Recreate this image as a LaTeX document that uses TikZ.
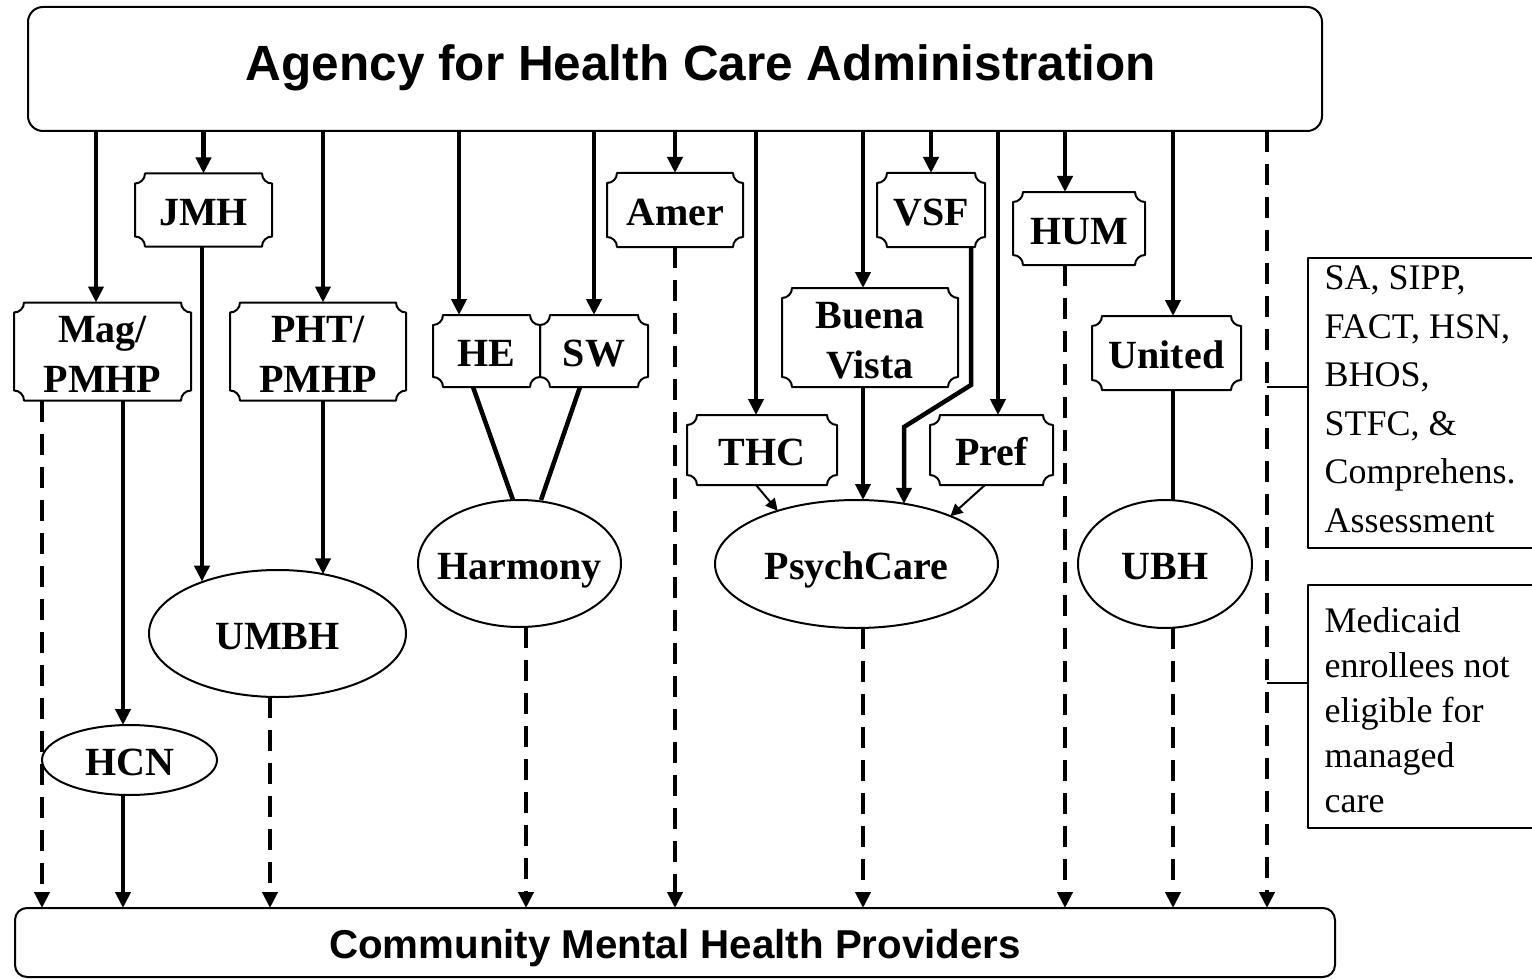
\documentclass[tikz,border=0pt]{standalone}
\usepackage{fontspec}
\setmainfont{Liberation Serif}
\setsansfont{Liberation Sans}
\usetikzlibrary{arrows.meta,shapes.geometric}
\newcommand\lblfont{\fontsize{40pt}{50pt}\selectfont\bfseries}
\newcommand\headfont{\fontsize{49.5pt}{56pt}\selectfont\sffamily\bfseries}
\newcommand\footfont{\fontsize{40.3pt}{46pt}\selectfont\sffamily\bfseries}
\newcommand\noteAfont{\fontsize{36pt}{48.5pt}\selectfont}
\newcommand\noteBfont{\fontsize{36pt}{45pt}\selectfont}
\newcommand\plaque[1]{%
  \draw[plqline] ([xshift=10pt]#1.north west) -- ([xshift=-10pt]#1.north east)
    arc[start angle=180,end angle=270,radius=10pt] -- ([yshift=10pt]#1.south east)
    arc[start angle=90,end angle=180,radius=10pt] -- ([xshift=10pt]#1.south west)
    arc[start angle=0,end angle=90,radius=10pt] -- ([yshift=-10pt]#1.north west)
    arc[start angle=-90,end angle=0,radius=10pt] -- cycle;}
\newcommand\zw[1]{\makebox[0pt][c]{#1}}
\begin{document}
\begin{tikzpicture}[x=1pt,y=-1pt,
  plqline/.style={line width=2pt, line join=round},
  pl/.style={rectangle, inner sep=0pt, outer sep=0pt, font=\lblfont, align=center, text height=31.5pt, text depth=0pt},
  pltwo/.style={pl, text height=82pt, text depth=0pt},
  ell/.style={ellipse, draw, line width=2pt, inner sep=0pt, outer sep=0pt, font=\lblfont, text height=31.5pt, text depth=0pt},
  bigbox/.style={rectangle, draw, line width=2pt, inner sep=0pt, outer sep=0pt},
  conn/.style={line width=4.5pt, -{Triangle[width=15pt,length=16pt]}},
  link/.style={line width=4.5pt},
  dconn/.style={line width=4.5pt, dash pattern=on 21pt off 12pt, -{Triangle[width=15pt,length=16pt]}},
  tconn/.style={line width=2pt, -{Triangle[width=12pt,length=12pt]}},
  thinline/.style={line width=1.5pt},
  framebox/.style={rectangle, inner sep=0pt, outer sep=0pt, align=left, minimum width=224pt}
]
\path[use as bounding box] (0,0) rectangle (1532,979);

% top and bottom boxes
\node[bigbox, rounded corners=15pt, minimum width=1294pt, minimum height=124pt, font=\headfont,
      text height=35.8pt, text depth=13.7pt] (top) at (675,69)
  {\hspace*{52pt}Agency for Health Care Administration};
\node[bigbox, rounded corners=12pt, minimum width=1320pt, minimum height=69pt, font=\footfont,
      text height=31.6pt, text depth=0pt] (bot) at (675,942.5)
  {Community Mental Health Providers};

% plan plaques
\node[pltwo, minimum width=177pt, minimum height=98pt] (mag) at (102.5,351.5) {Mag/\\PMHP};
\node[pl, minimum width=137pt, minimum height=73pt] (jmh) at (203.5,210) {JMH};
\node[pltwo, minimum width=176pt, minimum height=98pt] (pht) at (318,351.5) {PHT/\\PMHP};
\node[pl, minimum width=107pt, minimum height=72pt] (he) at (486.5,351) {HE};
\node[pl, minimum width=108pt, minimum height=72pt] (sw) at (594,351) {SW};
\node[pl, minimum width=136pt, minimum height=74pt] (amer) at (675,210) {Amer};
\node[pl, minimum width=108pt, minimum height=74pt] (vsf) at (931,210) {VSF};
\node[pl, minimum width=132pt, minimum height=73pt] (hum) at (1079,228.5) {HUM};
\node[pltwo, minimum width=176pt, minimum height=99pt] (bv) at (870,337.5) {Buena\\Vista};
\node[pl, minimum width=150pt, minimum height=70pt] (thc) at (762,450) {THC};
\node[pl, minimum width=123pt, minimum height=70pt] (pref) at (991.5,450) {Pref};
\node[pl, minimum width=149pt, minimum height=74pt] (united) at (1166.5,353) {United};
\foreach \n in {mag,jmh,pht,he,sw,amer,vsf,hum,bv,thc,pref,united} {\plaque{\n}}

% ellipses
\node[ell, minimum width=175pt, minimum height=70pt] (hcn) at (129.5,760) {\zw{HCN}};
\node[ell, minimum width=257pt, minimum height=127pt] (umbh) at (277.5,633.5) {\zw{UMBH}};
\node[ell, minimum width=203pt, minimum height=127pt] (harm) at (519.5,563.5) {\zw{Harmony}};
\node[ell, minimum width=283pt, minimum height=128pt] (psy) at (856.5,564) {\zw{PsychCare}};
\node[ell, minimum width=174pt, minimum height=128pt] (ubh) at (1165,564) {\zw{UBH}};

% notes
\node[framebox, minimum height=290pt, font=\noteAfont, text height=266.3pt, text depth=8pt] (n1) at (1420,403)
  {SA, SIPP,\\FACT, HSN,\\BHOS,\\STFC, \&\\Comprehens.\\Assessment};
\node[framebox, minimum height=243pt, font=\noteBfont, text height=211pt, text depth=0pt] (n2) at (1417,706.5)
  {Medicaid\\enrollees not\\eligible for\\managed\\care};
\draw[plqline] (n1.north east) -- (n1.north west) -- (n1.south west) -- (n1.south east);
\draw[plqline] ([xshift=3pt]n2.north east) -- (n2.north west -| n1.west) -- (n2.south west -| n1.west) -- ([xshift=3pt]n2.south east);

% arrows from the agency
\draw[conn] ([xshift=-6.5pt]mag.north |- top.south) -- ([xshift=-6.5pt]mag.north);
\draw[conn] (jmh.north |- top.south) -- (jmh.north);
\draw[conn] ([xshift=5pt]pht.north |- top.south) -- ([xshift=5pt]pht.north);
\draw[conn] ([xshift=-27.5pt]he.north |- top.south) -- ([xshift=-27.5pt]he.north);
\draw[conn] (sw.north |- top.south) -- (sw.north);
\draw[conn] (amer.north |- top.south) -- (amer.north);
\draw[conn] ([xshift=-6pt]thc.north |- top.south) -- ([xshift=-6pt]thc.north);
\draw[conn] ([xshift=-7pt]bv.north |- top.south) -- ([xshift=-7pt]bv.north);
\draw[conn] (vsf.north |- top.south) -- (vsf.north);
\draw[conn] ([xshift=6.5pt]pref.north |- top.south) -- ([xshift=6.5pt]pref.north);
\draw[conn] ([xshift=-14pt]hum.north |- top.south) -- ([xshift=-14pt]hum.north);
\draw[conn] ([xshift=6.5pt]united.north |- top.south) -- ([xshift=6.5pt]united.north);
\coordinate (dx) at (1267,0);
\draw[dconn] (dx |- top.south) -- (dx |- bot.north);

% Mag / HCN
\draw[dconn] ([xshift=-60.5pt]mag.south) -- ([xshift=-60.5pt]mag.south |- bot.north);
\draw[conn] ([xshift=20.5pt]mag.south) -- ([xshift=20.5pt]mag.south |- hcn.north);
\draw[conn] ([xshift=-6.5pt]hcn.south) -- ([xshift=-6.5pt]hcn.south |- bot.north);
% JMH, PHT -> UMBH
\draw[conn] ([xshift=-1.5pt]jmh.south) -- ([xshift=-1.5pt]jmh.south |- umbh.145.8);
\draw[conn] ([xshift=5pt]pht.south) -- ([xshift=5pt]pht.south |- umbh.52.5);
\draw[dconn] ([xshift=-7.5pt]umbh.south) -- ([xshift=-7.5pt]umbh.south |- bot.north);
% HE, SW -> Harmony
\draw[link] ([xshift=-13.5pt]he.south) -- ([xshift=-6.5pt]harm.north);
\draw[link] ([xshift=-14pt]sw.south) -- ([xshift=21.5pt]harm.north);
\draw[dconn] ([xshift=6.5pt]harm.south) -- ([xshift=6.5pt]harm.south |- bot.north);
% Amer
\draw[dconn] (amer.south) -- (amer.south |- bot.north);
% PsychCare group
\draw[tconn] ([xshift=-6pt]thc.south) -- (psy.146);
\draw[tconn] ([xshift=-6.5pt]pref.south) -- (psy.27);
\draw[conn] ([xshift=-7pt]bv.south) -- ([xshift=-7pt]bv.south |- psy.north);
\coordinate (vb1) at (971,385);
\coordinate (vb2) at (904,427);
\draw[conn] ([xshift=40pt]vsf.south) -- (vb1) -- (vb2) -- (vb2 |- psy.51.8);
\draw[dconn] ([xshift=6.5pt]psy.south) -- ([xshift=6.5pt]psy.south |- bot.north);
% HUM
\draw[dconn] ([xshift=-14pt]hum.south) -- ([xshift=-14pt]hum.south |- bot.north);
% United / UBH
\draw[link] ([xshift=6.5pt]united.south) -- ([xshift=6.5pt]united.south |- ubh.north);
\draw[dconn] ([xshift=8pt]ubh.south) -- ([xshift=8pt]ubh.south |- bot.north);
% note connectors
\coordinate (n1c) at ([yshift=16pt]n1.west);
\coordinate (n2c) at ([yshift=23.5pt]n2.west -| n1.west);
\draw[thinline] (dx |- n1c) -- (n1c);
\draw[thinline] (dx |- n2c) -- (n2c);
\end{tikzpicture}
\end{document}
